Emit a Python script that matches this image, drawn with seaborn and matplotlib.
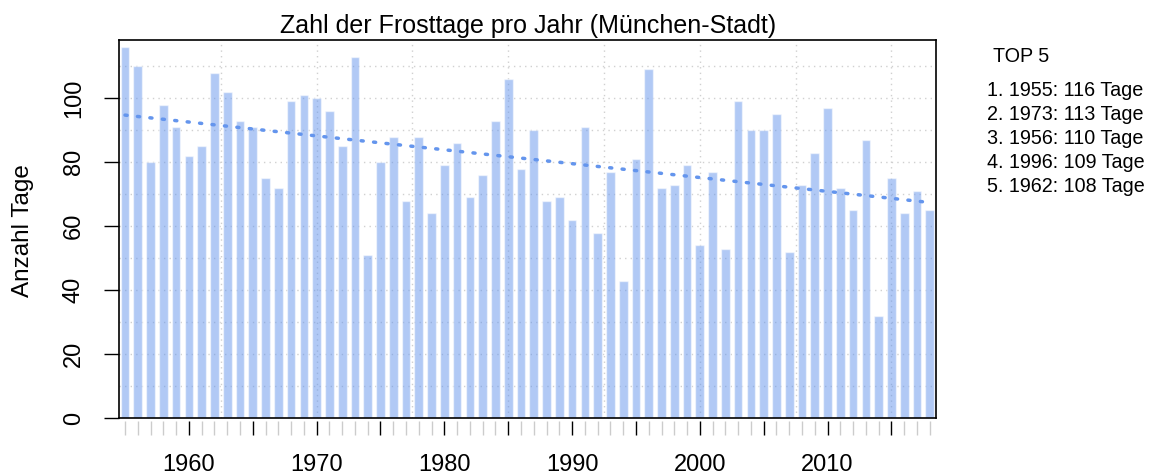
import numpy as np
import pandas as pd
import matplotlib
matplotlib.use("Agg")
import matplotlib.pyplot as plt
import seaborn as sns

# Frosttage pro Jahr, Muenchen-Stadt
jahre = list(range(1955, 2019))
frosttage = [116, 110, 80, 98, 91, 82, 85, 108, 102, 93,
             91, 75, 72, 99, 101, 100, 96, 85, 113, 51,
             80, 88, 68, 88, 64, 79, 86, 69, 76, 93,
             106, 78, 90, 68, 69, 62, 91, 58, 77, 43,
             81, 109, 72, 73, 79, 54, 77, 53, 99, 90,
             90, 95, 52, 73, 83, 97, 72, 65, 87, 32,
             75, 64, 71, 65]
label_jahre = [1960, 1970, 1980, 1990, 2000, 2010]

df = pd.DataFrame({"jahr": [str(j) for j in jahre], "tage": frosttage})
df["idx"] = np.arange(len(df))

sns.set_style("white")
plt.rcParams["font.family"] = ["Liberation Sans", "DejaVu Sans"]
plt.rcParams["text.color"] = "black"
plt.rcParams["xtick.color"] = "black"
plt.rcParams["ytick.color"] = "black"
plt.rcParams["axes.labelcolor"] = "black"

fig = plt.figure(figsize=(11.53, 4.75), dpi=100)
ax = fig.add_axes([0.1035, 0.1194, 0.7083, 0.7964])

# grid (R style, dotted lightgray)
for y in range(10, 120, 10):
    ax.axhline(y, color="#d0d0d0", lw=1, ls=(0, (1, 3)), zorder=0)
for x in np.arange(7.5, 61, 7.5):
    ax.axvline(x, color="#d0d0d0", lw=1, ls=(0, (1, 3)), zorder=0)

sns.barplot(data=df, x="jahr", y="tage", color="cornflowerblue", alpha=0.5,
            saturation=1, width=0.68, ax=ax, zorder=2)

# linearer Trend
sns.regplot(x=df["idx"], y=df["tage"], scatter=False, ci=None, ax=ax,
            color="cornflowerblue",
            line_kws=dict(lw=2.5, ls=(0, (0.6, 3.0)), dash_capstyle="round", zorder=3))

ax.set_xlim(-0.446, 63.49)
ax.set_ylim(0, 118.2)
ax.set_xlabel("")
ax.set_ylabel("")
ax.set_title("Zahl der Frosttage pro Jahr (München-Stadt)", fontsize=18, pad=5,
             color="black")

for s in ax.spines.values():
    s.set_visible(True)
    s.set_color("black")
    s.set_linewidth(1.2)

ax.set_yticks(range(0, 101, 20))
ax.set_yticklabels([str(v) for v in range(0, 101, 20)], rotation=90, va="center")
ax.tick_params(axis="y", left=True, length=10.8, width=1, pad=14, labelsize=17,
               color="black", labelcolor="black")
ax.tick_params(axis="x", bottom=False, labelbottom=False)

# x-Achse etwas unterhalb der Box
sec = ax.secondary_xaxis(location=-0.0065)
sec.spines["bottom"].set_visible(False)
major_idx = [i for i, j in enumerate(jahre) if j % 5 == 0 and j >= 1960]
minor_idx = [i for i in range(len(jahre)) if i not in major_idx]
sec.set_xticks(major_idx)
sec.set_xticklabels([str(jahre[i]) if jahre[i] in label_jahre else "" for i in major_idx])
sec.set_xticks(minor_idx, minor=True)
sec.tick_params(axis="x", which="major", length=9.8, width=1, color="black",
                pad=14, labelsize=17, labelcolor="black")
sec.tick_params(axis="x", which="minor", length=9.8, width=1, color="#cccccc")

fig.text(22.5 / 1153, 1 - 231 / 475, "Anzahl Tage", rotation=90,
         ha="center", va="center", fontsize=17.5)

# TOP 5
top = df.sort_values("tage", ascending=False, kind="stable").head(5)
fig.text(993 / 1153, 1 - 57 / 475, "TOP 5", ha="left", va="center", fontsize=14.2)
for k, (_, row) in enumerate(top.iterrows()):
    fig.text(987 / 1153, 1 - (90 + 24 * k) / 475,
             f"{k + 1}. {row['jahr']}: {row['tage']} Tage",
             ha="left", va="center", fontsize=14.2)

fig.savefig("out.png", dpi=100)
